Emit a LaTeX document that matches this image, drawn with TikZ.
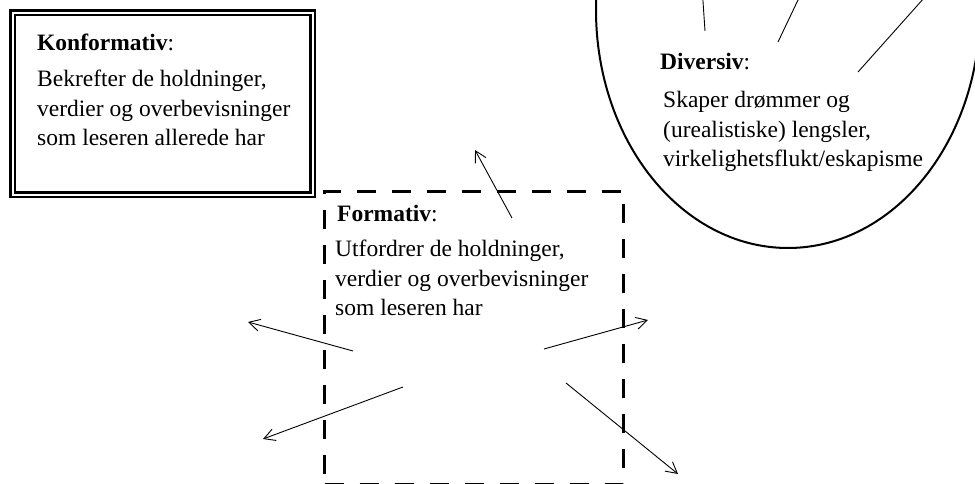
\documentclass[tikz,border=0pt]{standalone}
\usepackage{fontspec}
\setmainfont{Liberation Serif}
\usepackage{tikz}
\usetikzlibrary{arrows.meta, shapes.geometric, positioning}

\begin{document}
\begin{tikzpicture}[x=1pt, y=1pt, >={Straight Barb[length=11pt, width=12pt]},
    tekst/.style={font=\fontsize{23.5}{29.5}\selectfont, inner sep=0pt, align=left, anchor=base west},
    pil/.style={->, line width=0.9pt}]
    % Rammen for hele figuren
    \clip (0,0) rectangle (975,484);
    \useasboundingbox (0,0) rectangle (975,484);

    % Konformativ (dobbel ramme)
    \node[draw, line width=2.5pt, double, double distance=2pt, inner sep=0pt,
        minimum width=300pt, minimum height=182pt, anchor=north west] (konf) at (11.5,472.5) {};
    \node[tekst] (konfnavn) at (37,433) {\textbf{Konformativ}:};
    \node[tekst] (konftekst) at (37,338) {Bekrefter de holdninger,\\verdier og overbevisninger\\som leseren allerede har};

    % Formativ (stiplet ramme)
    \node[draw, line width=3pt, dash pattern=on 19pt off 16pt, inner sep=0pt,
        minimum width=299pt, minimum height=293pt, anchor=north west] (form) at (323,294) {};
    \node[tekst] (formnavn) at (337,262) {\textbf{Formativ}:};
    \node[tekst] (formtekst) at (335,168) {Utfordrer de holdninger,\\verdier og overbevisninger\\som leseren har};

    % Diversiv (ellipse, kuttet i toppen)
    \node[draw, ellipse, line width=2pt, inner sep=0pt,
        minimum width=384pt, minimum height=476pt] (div) at (788,474) {};
    \node[tekst] (divnavn) at (660,414) {\textbf{Diversiv}:};
    \node[tekst] (divtekst) at (663,317) {Skaper drømmer og\\(urealistiske) lengsler,\\virkelighetsflukt/eskapisme};

    % Piler ut fra Formativ
    \coordinate (f1a) at (512,266); \coordinate (f1b) at (475,334);
    \coordinate (f2a) at (353,133); \coordinate (f2b) at (248,162);
    \coordinate (f3a) at (403,97);  \coordinate (f3b) at (263,45);
    \coordinate (f4a) at (544,135); \coordinate (f4b) at (648,164);
    \coordinate (f5a) at (566,101); \coordinate (f5b) at (678,10);
    \foreach \i in {1,...,5}
        \draw[pil] (f\i a) -- (f\i b);

    % Piler ut fra Diversiv (spissene ligger utenfor bildet)
    \coordinate (d1a) at (705,453); \coordinate (d1b) at (701.5,505);
    \coordinate (d2a) at (778,442); \coordinate (d2b) at (808,505);
    \coordinate (d3a) at (858,412); \coordinate (d3b) at (941,505);
    \foreach \i in {1,2,3}
        \draw[pil] (d\i a) -- (d\i b);
\end{tikzpicture}
\end{document}
